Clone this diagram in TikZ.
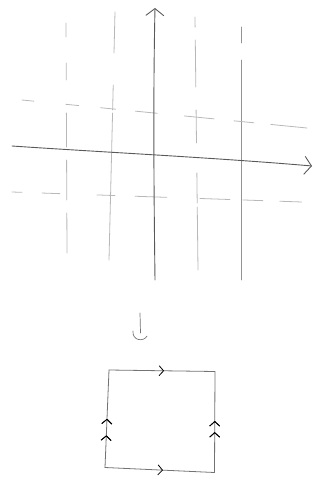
\documentclass[tikz,border=0pt]{standalone}
\usetikzlibrary{arrows.meta,decorations.markings}
\definecolor{axisgray}{gray}{0.35}
\definecolor{gridgray}{gray}{0.72}
\definecolor{boxgray}{gray}{0.45}
\tikzset{
  axisline/.style={draw=axisgray, line width=0.9pt, line cap=round},
  gridline/.style={draw=gridgray, line width=0.8pt, line cap=round},
  openhead/.style={-{Straight Barb[length=7pt,width=18pt,line width=0.9pt]}},
  edgebox/.style={draw=boxgray, line width=0.8pt, line cap=round},
  chev/.style={postaction={decorate}, decoration={markings,
     mark=at position #1 with {\arrow{Straight Barb[length=4.5pt,width=10pt,line width=0.8pt]}}}},
}
\begin{document}
\begin{tikzpicture}[x=1pt,y=-1pt]
\useasboundingbox (0,0) rectangle (322,480);
% grid lines (vertical)
\draw[gridline, dash pattern=on 14pt off 26pt on 17pt off 33pt on 34pt off 13pt on 40pt off 13pt on 40pt off 100pt] (66,23) -- (67,253);
\draw[gridline, dash pattern=on 41pt off 32pt on 25pt off 3pt on 150pt off 100pt] (115,12) -- (109,260);
\draw[gridline, dash pattern=on 10pt off 13pt on 47pt off 23pt on 33pt off 30pt on 30pt off 4pt on 63pt off 100pt] (195,17) -- (198,270);
\draw[draw=gray!85, line width=0.8pt, line cap=round, dash pattern=on 16pt off 17pt on 220pt off 100pt] (241,27) -- (241,280);
% grid lines (horizontal)
\draw[gridline, dash pattern=on 12pt off 32pt on 13pt off 22pt on 15pt off 20pt on 22pt off 27pt on 30pt off 20pt on 20pt off 17pt on 37pt off 100pt] (22,100) -- (307,128);
\draw[gridline, dash pattern=on 10pt off 20pt on 18pt off 37pt on 18pt off 20pt on 32pt off 33pt on 30pt off 13pt on 20pt off 17pt on 22pt off 100pt] (12,192) -- (302,202);
% axes
\draw[axisline, openhead] (155,280) .. controls (154,200) and (153,100) .. (155,8);
\draw[axisline, openhead] (12,146) .. controls (100,152) and (220,158) .. (312,166);
% hook arrow
\coordinate (hooktop) at (140,313);
\draw[edgebox, line width=0.7pt] (hooktop) -- (140.5,333);
\draw[edgebox, line width=0.7pt] (133,331) .. controls (132,341) and (144,342) .. (147,336);
% square
\coordinate (tl) at (109,370);
\coordinate (tr) at (215,371.5);
\coordinate (br) at (214.5,472.5);
\coordinate (bl) at (105,467.5);
\draw[edgebox] (tl) -- (tr) -- (br);
\draw[edgebox] (bl) -- (br);
\draw[edgebox] (bl) -- (tl);
\path[chev=0.52] (tl) -- (tr);
\path[chev=0.53] (bl) -- (br);
\path[chev=0.33, chev=0.5] (bl) -- (tl);
\path[chev=0.4, chev=0.51] (br) -- (tr);
\end{tikzpicture}
\end{document}
